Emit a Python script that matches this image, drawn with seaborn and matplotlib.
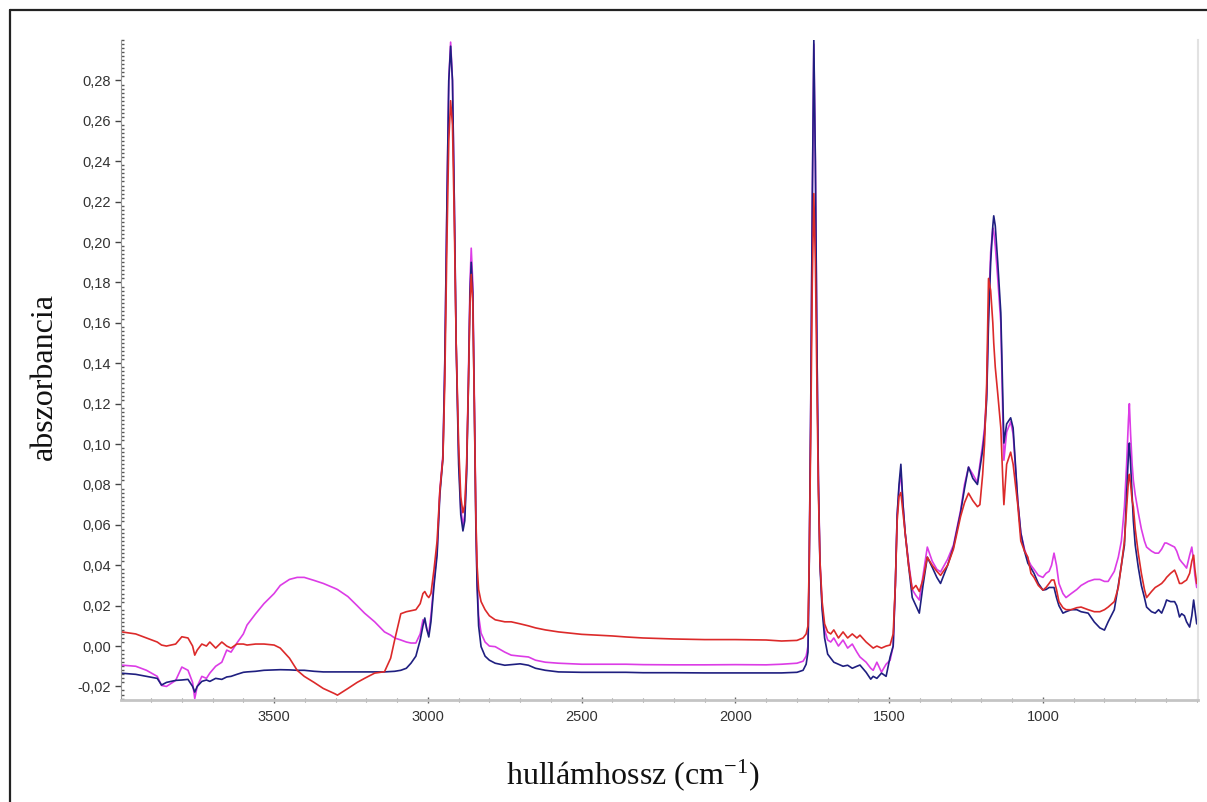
import matplotlib
matplotlib.use("Agg")
import numpy as np
import pandas as pd
import matplotlib.pyplot as plt
import seaborn as sns
from matplotlib.lines import Line2D
from matplotlib.ticker import MultipleLocator, FuncFormatter

# hullámszám (cm-1), közös rács a három spektrumhoz
wavenumber = [
    4000, 3950, 3915, 3880, 3866, 3850, 3820, 3800, 3780, 3765, 3758, 3750, 3735, 3720, 3709, 3690, 3670, 3654, 3640, 3621, 3600,
    3588, 3560, 3533, 3500, 3480, 3450, 3425, 3402, 3370, 3340, 3304, 3294, 3260, 3230, 3206, 3173, 3141, 3121, 3108,
    3088, 3070, 3055, 3039, 3025, 3016, 3010, 3003, 2997, 2990,
    2980, 2970, 2961, 2951, 2945, 2938, 2932, 2926, 2920, 2914, 2908, 2900, 2893, 2886, 2880, 2874, 2868, 2863, 2859, 2854, 2849, 2844, 2840, 2835,
    2827, 2814, 2800, 2781, 2750, 2729, 2700, 2673, 2650, 2618, 2575, 2500, 2400, 2356, 2300, 2200, 2100, 2000, 1900, 1850, 1800,
    1780, 1770, 1764, 1760, 1755, 1750, 1745, 1740, 1735, 1730, 1725, 1718, 1710, 1700,
    1690, 1680, 1665, 1650, 1635, 1620, 1605, 1595, 1575, 1560, 1552, 1540, 1525, 1510, 1497, 1487,
    1480, 1474, 1468, 1462, 1455, 1448, 1437, 1425, 1413, 1402, 1390, 1376, 1360, 1345, 1333,
    1310, 1291, 1268, 1255, 1242, 1228, 1213, 1205, 1196, 1190, 1183,
    1177, 1170, 1163, 1160, 1155, 1147, 1137, 1130, 1127, 1118, 1105, 1097, 1082,
    1072, 1060, 1049, 1039, 1029, 1015, 1000,
    990, 980, 972, 964, 956, 948, 935, 925, 908, 890, 876, 853, 833, 815, 800,
    788, 768, 755, 745, 735, 728, 722, 719, 715, 710, 706, 700, 690, 680, 670, 663,
    647, 635, 624, 614, 604, 598, 585, 572, 565, 556, 549, 540, 533, 523, 516, 510, 506, 500,
]

# kék (sötétkék) spektrum
kek = [
    -0.0134, -0.0140, -0.0150, -0.0160, -0.0193, -0.0180, -0.0170, -0.0168, -0.0165, -0.0200, -0.0228, -0.0200, -0.0175, -0.0168, -0.0175, -0.0160, -0.0165, -0.0153, -0.0150, -0.0140, -0.0130,
    -0.0128, -0.0125, -0.0120, -0.0118, -0.0117, -0.0118, -0.0120, -0.0120, -0.0125, -0.0128, -0.0128, -0.0128, -0.0128, -0.0128, -0.0128, -0.0128, -0.0128, -0.0126, -0.0125,
    -0.0120, -0.0110, -0.0085, -0.0050, 0.0030, 0.0100, 0.0139, 0.0080, 0.0045, 0.0120,
    0.030, 0.045, 0.075, 0.093, 0.140, 0.220, 0.280, 0.297, 0.280, 0.220, 0.150, 0.090, 0.065, 0.057, 0.062, 0.085, 0.130, 0.175, 0.190, 0.175, 0.120, 0.060, 0.030, 0.010,
    -0.0003, -0.0050, -0.0070, -0.0085, -0.0095, -0.0092, -0.0088, -0.0095, -0.0110, -0.0120, -0.0128, -0.0130, -0.0130, -0.0130, -0.0132, -0.0132, -0.0133, -0.0133, -0.0133, -0.0133, -0.0130,
    -0.0120, -0.0090, -0.0030, 0.0400, 0.1200, 0.2200, 0.3000, 0.2400, 0.1500, 0.0800, 0.0400, 0.0180, 0.0040, -0.0040,
    -0.0060, -0.0080, -0.0090, -0.0100, -0.0095, -0.0110, -0.0100, -0.0094, -0.0130, -0.0164, -0.0150, -0.0160, -0.0134, -0.0150, -0.0054, 0.0000,
    0.030, 0.065, 0.080, 0.090, 0.070, 0.056, 0.040, 0.024, 0.020, 0.0163, 0.030, 0.044, 0.039, 0.034, 0.031,
    0.040, 0.049, 0.066, 0.078, 0.0886, 0.083, 0.080, 0.088, 0.097, 0.105, 0.122,
    0.160, 0.190, 0.208, 0.213, 0.208, 0.190, 0.165, 0.120, 0.1005, 0.110, 0.113, 0.108, 0.072,
    0.056, 0.047, 0.041, 0.0386, 0.036, 0.031, 0.0277,
    0.028, 0.029, 0.029, 0.029, 0.024, 0.020, 0.0163, 0.017, 0.018, 0.018, 0.017, 0.0163, 0.0119, 0.009, 0.0079,
    0.012, 0.018, 0.030, 0.040, 0.050, 0.075, 0.095, 0.1005, 0.090, 0.075, 0.062, 0.050, 0.039, 0.030, 0.024, 0.0193,
    0.017, 0.0163, 0.018, 0.0163, 0.020, 0.0228, 0.022, 0.022, 0.020, 0.0144, 0.016, 0.015, 0.012, 0.0094, 0.015, 0.0228, 0.018, 0.011,
]

# lila (magenta) spektrum
lila = [
    -0.0094, -0.0100, -0.0120, -0.0150, -0.0195, -0.0200, -0.0170, -0.0104, -0.0120, -0.0180, -0.0260, -0.0200, -0.0150, -0.0160, -0.0134, -0.0100, -0.0080, -0.0020, -0.0030, 0.0015, 0.0060,
    0.0104, 0.0160, 0.0210, 0.0260, 0.0300, 0.0330, 0.0340, 0.0340, 0.0325, 0.0310, 0.0287, 0.0280, 0.0245, 0.0200, 0.0163, 0.0120, 0.0070, 0.0054, 0.0040,
    0.0030, 0.0020, 0.0015, 0.0015, 0.0060, 0.0130, 0.0120, 0.0080, 0.0064, 0.0150,
    0.032, 0.047, 0.077, 0.095, 0.140, 0.220, 0.280, 0.299, 0.280, 0.220, 0.150, 0.095, 0.068, 0.060, 0.065, 0.088, 0.135, 0.180, 0.197, 0.180, 0.125, 0.065, 0.032, 0.015,
    0.0064, 0.0020, 0.0000, -0.0003, -0.0030, -0.0045, -0.0050, -0.0054, -0.0070, -0.0080, -0.0085, -0.0090, -0.0090, -0.0090, -0.0092, -0.0093, -0.0093, -0.0092, -0.0093, -0.0090, -0.0085,
    -0.0075, -0.0050, 0.0000, 0.0420, 0.1200, 0.2200, 0.2980, 0.2400, 0.1500, 0.0820, 0.0420, 0.0200, 0.0080, 0.0030,
    0.0020, 0.0040, 0.0000, 0.0030, -0.0010, 0.0010, -0.0030, -0.0054, -0.0080, -0.0110, -0.0120, -0.0080, -0.0129, -0.0090, -0.0070, 0.0000,
    0.030, 0.065, 0.078, 0.086, 0.070, 0.056, 0.042, 0.028, 0.025, 0.0228, 0.035, 0.049, 0.042, 0.038, 0.0367,
    0.043, 0.050, 0.067, 0.080, 0.0886, 0.085, 0.081, 0.090, 0.100, 0.108, 0.125,
    0.165, 0.195, 0.207, 0.205, 0.198, 0.182, 0.160, 0.110, 0.092, 0.106, 0.111, 0.105, 0.072,
    0.056, 0.048, 0.043, 0.040, 0.038, 0.035, 0.034,
    0.036, 0.037, 0.040, 0.046, 0.040, 0.031, 0.026, 0.024, 0.026, 0.028, 0.030, 0.032, 0.033, 0.033, 0.032,
    0.032, 0.037, 0.044, 0.052, 0.069, 0.090, 0.112, 0.120, 0.105, 0.090, 0.082, 0.075, 0.066, 0.058, 0.052, 0.049,
    0.047, 0.046, 0.046, 0.048, 0.051, 0.051, 0.050, 0.049, 0.047, 0.043, 0.0416, 0.040, 0.0386, 0.045, 0.049, 0.042, 0.035, 0.029,
]

# piros spektrum
piros = [
    0.0071, 0.0060, 0.0040, 0.0020, 0.0005, 0.0000, 0.0010, 0.0046, 0.0040, 0.0000, -0.0045, -0.0020, 0.0010, 0.0000, 0.0020, -0.0010, 0.0020, 0.0000, -0.0010, 0.0010, 0.0010,
    0.0005, 0.0010, 0.0010, 0.0005, -0.0010, -0.0060, -0.0120, -0.0150, -0.0180, -0.0210, -0.0235, -0.0243, -0.0210, -0.0180, -0.0160, -0.0134, -0.0127, -0.0060, 0.0030,
    0.0160, 0.0170, 0.0175, 0.0180, 0.0210, 0.0260, 0.0270, 0.0250, 0.0240, 0.0260,
    0.038, 0.052, 0.077, 0.093, 0.130, 0.200, 0.250, 0.270, 0.258, 0.210, 0.150, 0.100, 0.074, 0.066, 0.070, 0.090, 0.130, 0.170, 0.184, 0.170, 0.120, 0.065, 0.040, 0.028,
    0.0220, 0.0180, 0.0150, 0.0130, 0.0120, 0.0120, 0.0110, 0.0100, 0.0090, 0.0080, 0.0070, 0.0058, 0.0050, 0.0045, 0.0040, 0.0035, 0.0032, 0.0032, 0.0030, 0.0025, 0.0028,
    0.0040, 0.0060, 0.0100, 0.0420, 0.1050, 0.1800, 0.2240, 0.1900, 0.1300, 0.0750, 0.0420, 0.0220, 0.0110, 0.0070,
    0.0060, 0.0080, 0.0040, 0.0070, 0.0040, 0.0060, 0.0040, 0.0054, 0.0020, 0.0000, -0.0010, 0.0000, -0.0010, 0.0000, 0.0005, 0.0060,
    0.030, 0.062, 0.074, 0.076, 0.066, 0.056, 0.040, 0.028, 0.030, 0.027, 0.033, 0.044, 0.040, 0.037, 0.035,
    0.040, 0.048, 0.064, 0.071, 0.0757, 0.072, 0.069, 0.070, 0.085, 0.100, 0.130,
    0.182, 0.176, 0.160, 0.150, 0.138, 0.125, 0.108, 0.080, 0.070, 0.090, 0.096, 0.090, 0.070,
    0.052, 0.047, 0.044, 0.036, 0.034, 0.030, 0.0277,
    0.029, 0.031, 0.0327, 0.0327, 0.028, 0.022, 0.019, 0.018, 0.018, 0.019, 0.0193, 0.018, 0.017, 0.017, 0.018,
    0.0193, 0.022, 0.029, 0.040, 0.052, 0.068, 0.082, 0.085, 0.080, 0.072, 0.069, 0.058, 0.046, 0.036, 0.028, 0.024,
    0.027, 0.029, 0.030, 0.031, 0.0327, 0.034, 0.036, 0.0376, 0.035, 0.031, 0.031, 0.032, 0.0327, 0.036, 0.042, 0.045, 0.038, 0.031,
]

assert len(wavenumber) == len(kek) == len(lila) == len(piros)

szinek = {"lila": "#dc3ce6", "kek": "#1f1f80", "piros": "#dc2a2a"}

# long-form tábla a seabornnak
df = pd.concat([
    pd.DataFrame({"wn": wavenumber, "abs": lila, "minta": "lila"}),
    pd.DataFrame({"wn": wavenumber, "abs": kek, "minta": "kek"}),
    pd.DataFrame({"wn": wavenumber, "abs": piros, "minta": "piros"}),
])

sns.set_theme(style="white")
plt.rcParams["font.family"] = ["Liberation Sans", "DejaVu Sans"]
plt.rcParams["mathtext.fontset"] = "custom"
plt.rcParams["mathtext.rm"] = "Liberation Serif"
plt.rcParams["mathtext.it"] = "Liberation Serif:italic"

fig = plt.figure(figsize=(12.07, 8.02), dpi=100)
ax = fig.add_axes([0.1002, 0.1272, 0.8923, 0.8228])

sns.lineplot(data=df, x="wn", y="abs", hue="minta", hue_order=["lila", "kek", "piros"],
             palette=szinek, estimator=None, sort=False, lw=1.2, legend=False, ax=ax)

ax.set_xlim(3998, 496)
ax.set_ylim(-0.0267, 0.300)
ax.set_xlabel("")
ax.set_ylabel("")

# tengelyek
ax.set_xticks([3500, 3000, 2500, 2000, 1500, 1000])
ax.xaxis.set_minor_locator(MultipleLocator(100))
ax.set_yticks(np.arange(-0.02, 0.2801, 0.02))
ax.yaxis.set_minor_locator(MultipleLocator(0.002))
ax.yaxis.set_major_formatter(FuncFormatter(lambda v, p: f"{round(v, 2) + 0:.2f}".replace(".", ",")))

ax.tick_params(axis="y", which="major", direction="out", length=4, width=1, color="#444444",
               labelsize=10.5, labelcolor="#333333", pad=3, left=True)
ax.tick_params(axis="y", which="minor", direction="in", length=2, width=1, color="#555555", left=True)
ax.tick_params(axis="x", which="major", direction="inout", length=4, width=1, color="#666666",
               labelsize=10.5, labelcolor="#333333", pad=5, bottom=True)
ax.tick_params(axis="x", which="minor", direction="inout", length=3, width=0.8, color="#888888", bottom=True)

ax.spines["top"].set_visible(False)
ax.spines["right"].set_color("#e2e2e2")
ax.spines["right"].set_linewidth(1.5)
ax.spines["bottom"].set_color("#c4c4c4")
ax.spines["bottom"].set_linewidth(2)
ax.spines["left"].set_color("#9a9a9a")
ax.spines["left"].set_linewidth(0.8)

# tengelyfeliratok
fig.text(0.037, 0.531, "abszorbancia", rotation=90, ha="center", va="center",
         fontsize=23, family="Liberation Serif", color="#111111")
fig.text(0.5245, 0.034, "hullámhossz (cm$^{-1}$)", ha="center", va="center",
         fontsize=23, family="Liberation Serif", color="#111111")

# keret a kép bal és felső szélén
fig.add_artist(Line2D([10 / 1207, 1.0], [1 - 10 / 802, 1 - 10 / 802], transform=fig.transFigure,
                      color="#222222", lw=1.6))
fig.add_artist(Line2D([10 / 1207, 10 / 1207], [0.0, 1 - 10 / 802], transform=fig.transFigure,
                      color="#222222", lw=1.6))

fig.savefig("out.png", dpi=100)
